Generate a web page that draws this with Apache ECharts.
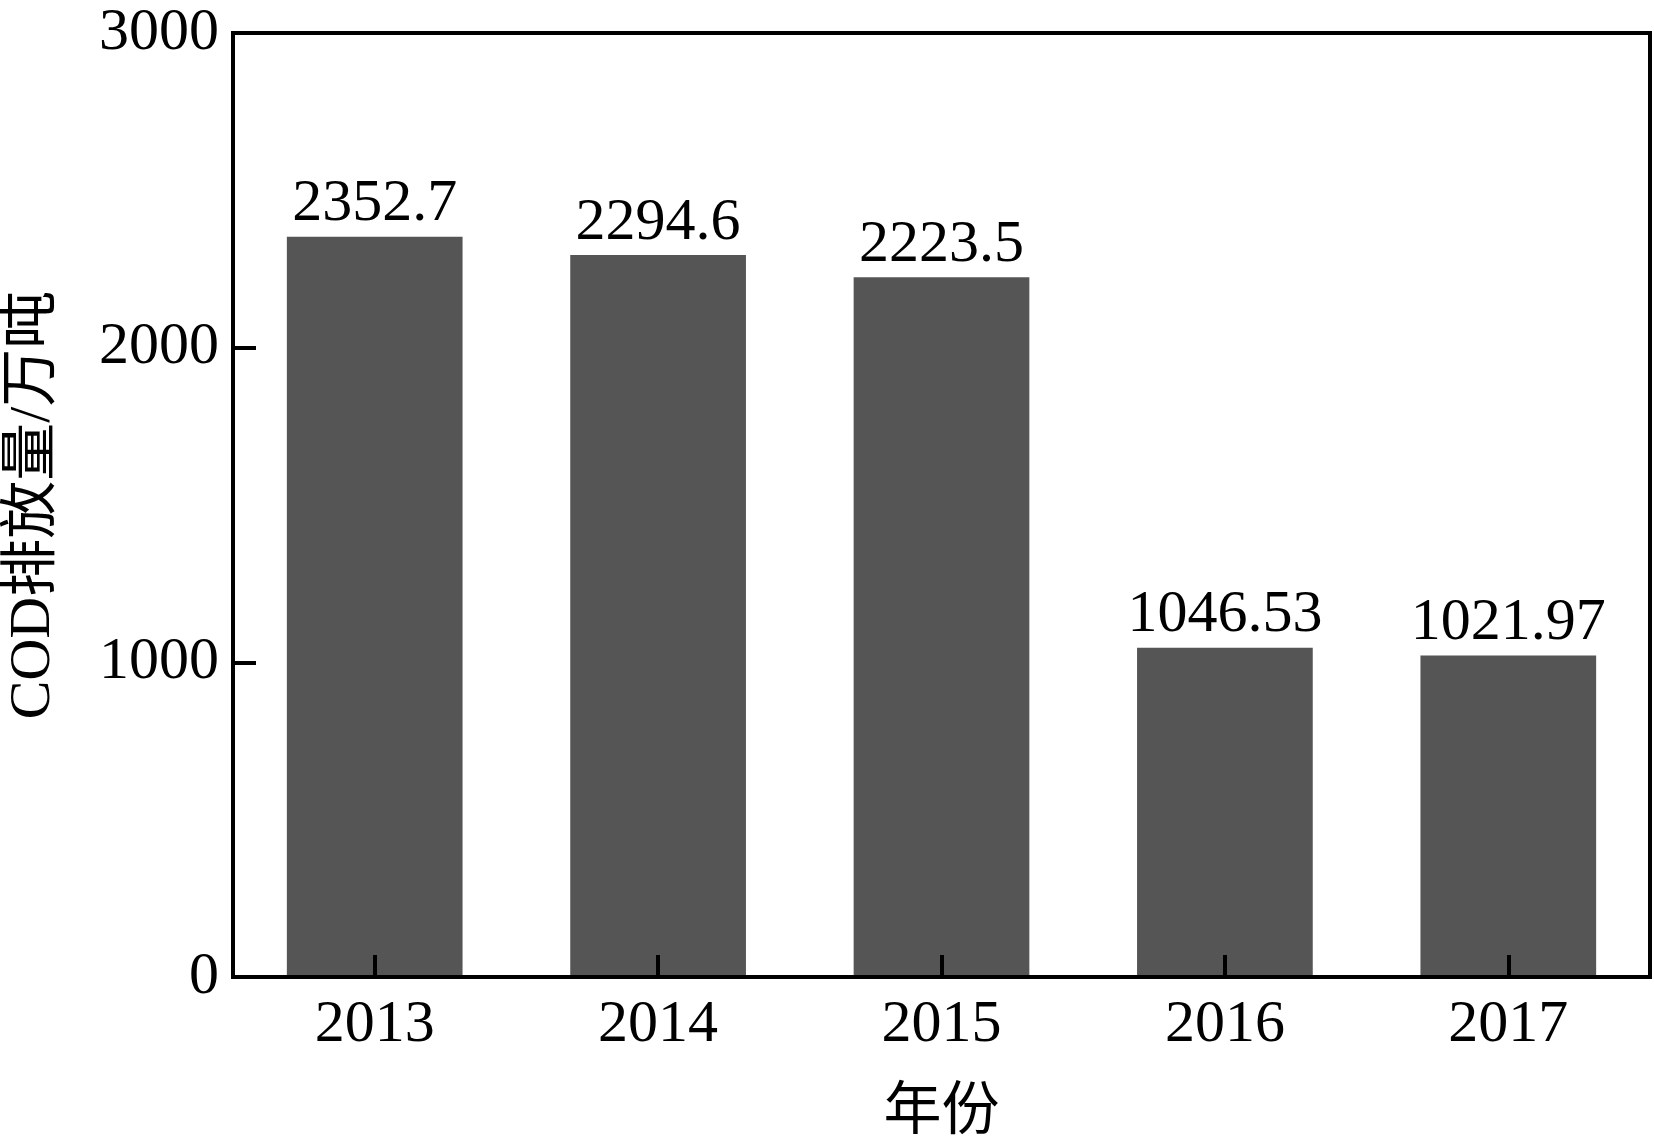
<!DOCTYPE html>
<html>
<head>
<meta charset="utf-8">
<script src="https://cdn.jsdelivr.net/npm/echarts@6/dist/echarts.min.js"></script>
<style>
  html, body { margin: 0; padding: 0; background: #fff; }
  #main { width: 1654px; height: 1148px; }
</style>
</head>
<body>
<div id="main"></div>
<script>
var years = ['2013', '2014', '2015', '2016', '2017'];
var codValues = [2352.7, 2294.6, 2223.5, 1046.53, 1021.97];
var codLabels = ['2352.7', '2294.6', '2223.5', '1046.53', '1021.97'];

var FONT = '"Liberation Serif", "Times New Roman", "Noto Sans CJK SC", serif';

var chart = echarts.init(document.getElementById('main'));
var option = {
    backgroundColor: '#fff',
    textStyle: { fontFamily: FONT, color: '#000' },
    grid: {
        left: 233, top: 33, right: 4, bottom: 171,
        show: true, borderColor: '#000', borderWidth: 4,
        containLabel: false,
        outerBoundsMode: 'none'
    },
    xAxis: {
        type: 'category',
        data: years,
        z: 10,
        name: '年份',
        nameLocation: 'middle',
        nameGap: 108,
        nameTextStyle: { fontSize: 58, fontFamily: FONT, color: '#000' },
        axisLine: { lineStyle: { color: '#000', width: 4 } },
        axisTick: { show: true, inside: true, length: 22, alignWithLabel: true, lineStyle: { color: '#000', width: 4 } },
        axisLabel: { inside: false, fontSize: 60, color: '#000', fontFamily: FONT, margin: 18 },
        splitLine: { show: false }
    },
    yAxis: {
        type: 'value',
        min: 0, max: 3000, interval: 1000,
        z: 10,
        name: 'COD排放量/万吨',
        nameLocation: 'middle',
        nameGap: 170,
        nameTextStyle: { fontSize: 58, fontFamily: FONT, color: '#000' },
        axisLine: { show: true, onZero: false, lineStyle: { color: '#000', width: 4 } },
        axisTick: { show: true, inside: false, length: -23, lineStyle: { color: '#000', width: 4 } },
        axisLabel: {
            inside: false, fontSize: 60, color: '#000', fontFamily: FONT, margin: 14,
            formatter: function (v) { return String(v); }
        },
        splitLine: { show: false }
    },
    series: [{
        type: 'bar',
        data: codValues,
        barWidth: '62%',
        z: 2,
        itemStyle: { color: '#555555' },
        label: {
            show: true,
            position: 'top',
            distance: 2,
            fontSize: 60,
            fontFamily: FONT,
            color: '#000',
            formatter: function (p) { return codLabels[p.dataIndex]; }
        },
        animation: false
    }]
};
chart.setOption(option);
</script>
</body>
</html>
